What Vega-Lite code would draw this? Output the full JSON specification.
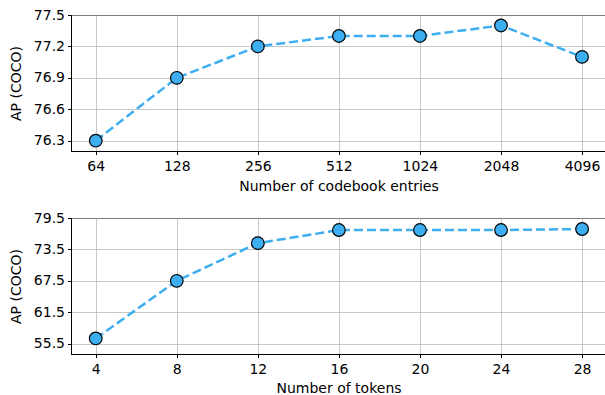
{
  "$schema": "https://vega.github.io/schema/vega-lite/v6.json",
  "padding": {"left": 8, "top": 7, "right": 0, "bottom": 0},
  "spacing": 16,
  "config": {
    "font": "DejaVu Sans",
    "view": {"stroke": "black", "strokeWidth": 1},
    "axis": {
      "labelFont": "DejaVu Sans",
      "titleFont": "DejaVu Sans",
      "labelFontSize": 14,
      "titleFontSize": 14,
      "titleFontWeight": "normal",
      "labelColor": "black",
      "titleColor": "black",
      "domainColor": "black",
      "tickColor": "black",
      "tickSize": 3.5,
      "labelPadding": 3,
      "gridColor": "#b0b0b0",
      "gridOpacity": 0.7,
      "gridWidth": 1
    },
    "axisX": {"labelPadding": 4.5}
  },
  "vconcat": [
    {
      "width": 535,
      "height": 136,
      "data": {"values": [
        {"entries": 64, "ap": 76.3},
        {"entries": 128, "ap": 76.9},
        {"entries": 256, "ap": 77.2},
        {"entries": 512, "ap": 77.3},
        {"entries": 1024, "ap": 77.3},
        {"entries": 2048, "ap": 77.4},
        {"entries": 4096, "ap": 77.1}
      ]},
      "encoding": {
        "x": {"field": "entries", "type": "quantitative",
          "scale": {"type": "log", "base": 2, "domain": [51.78, 5029], "nice": false},
          "axis": {"values": [64, 128, 256, 512, 1024, 2048, 4096], "format": "d", "title": "Number of codebook entries", "titlePadding": 6}},
        "y": {"field": "ap", "type": "quantitative",
          "scale": {"domain": [76.2016, 77.5], "nice": false, "zero": false},
          "axis": {"values": [76.3, 76.6, 76.9, 77.2, 77.5], "format": ".1f", "title": "AP (COCO)", "titlePadding": 10}}
      },
      "layer": [
        {"mark": {"type": "line", "color": "#3daef0", "strokeWidth": 2.5, "strokeDash": [9, 4]}},
        {"mark": {"type": "point", "filled": true, "fill": "#3daef0", "stroke": "black", "strokeWidth": 1.2, "size": 160, "opacity": 1}}
      ]
    },
    {
      "width": 535,
      "height": 136,
      "data": {"values": [
        {"tokens": 4, "ap": 56.5},
        {"tokens": 8, "ap": 67.5},
        {"tokens": 12, "ap": 74.7},
        {"tokens": 16, "ap": 77.2},
        {"tokens": 20, "ap": 77.2},
        {"tokens": 24, "ap": 77.2},
        {"tokens": 28, "ap": 77.4}
      ]},
      "encoding": {
        "x": {"field": "tokens", "type": "quantitative",
          "scale": {"domain": [2.78, 29.18], "nice": false, "zero": false},
          "axis": {"values": [4, 8, 12, 16, 20, 24, 28], "format": "d", "title": "Number of tokens", "titlePadding": 5}},
        "y": {"field": "ap", "type": "quantitative",
          "scale": {"domain": [53.53, 79.5], "nice": false, "zero": false},
          "axis": {"values": [55.5, 61.5, 67.5, 73.5, 79.5], "format": ".1f", "title": "AP (COCO)", "titlePadding": 10}}
      },
      "layer": [
        {"mark": {"type": "line", "color": "#3daef0", "strokeWidth": 2.5, "strokeDash": [9, 4]}},
        {"mark": {"type": "point", "filled": true, "fill": "#3daef0", "stroke": "black", "strokeWidth": 1.2, "size": 160, "opacity": 1}}
      ]
    }
  ]
}
